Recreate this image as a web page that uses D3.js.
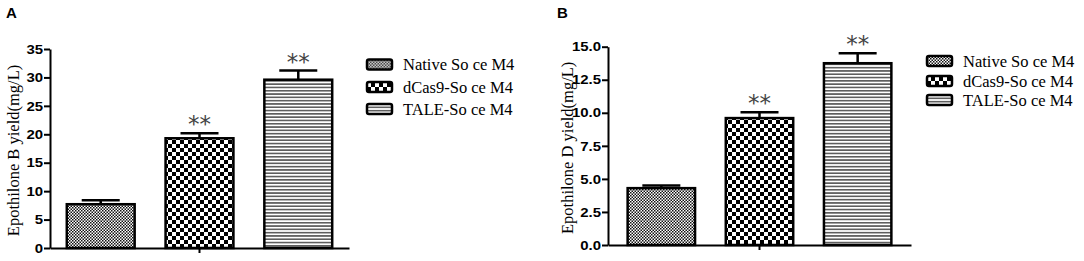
<!DOCTYPE html>
<html>
<head>
<meta charset="utf-8">
<script src="https://cdn.jsdelivr.net/npm/d3@7"></script>
<style>
  body { margin: 0; background: #fff; }
  svg { display: block; }
</style>
</head>
<body>
<script>
'use strict';

// data
var categories = ['Native So ce M4', 'dCas9-So ce M4', 'TALE-So ce M4'];
var yieldB = [7.7, 19.3, 29.6],
    errB = [0.7, 0.9, 1.6];
var yieldD = [4.3, 9.6, 13.75],
    errD = [0.2, 0.45, 0.75];
var ticksB = [0, 5, 10, 15, 20, 25, 30, 35],
    ticksD = [0, 2.5, 5, 7.5, 10, 12.5, 15];
var starLabels = ['', '**', '**'];

var svg = d3.select('body').append('svg').attr('width', 1084).attr('height', 261),
    defs = svg.append('defs');

// bar fills: fine checker, coarse checker, horizontal stripes
var fine = defs.append('pattern').attr('id', 'fill0').attr('patternUnits', 'userSpaceOnUse')
  .attr('width', 3).attr('height', 3);
fine.append('rect').attr('width', 3).attr('height', 3).attr('fill', '#fff');
fine.append('rect').attr('width', 1.5).attr('height', 1.5).attr('fill', '#111');
fine.append('rect').attr('x', 1.5).attr('y', 1.5).attr('width', 1.5).attr('height', 1.5).attr('fill', '#111');

var coarse = defs.append('pattern').attr('id', 'fill1').attr('patternUnits', 'userSpaceOnUse')
  .attr('width', 8).attr('height', 8);
coarse.append('rect').attr('width', 8).attr('height', 8).attr('fill', '#fff');
coarse.append('rect').attr('width', 4).attr('height', 4).attr('fill', '#000');
coarse.append('rect').attr('x', 4).attr('y', 4).attr('width', 4).attr('height', 4).attr('fill', '#000');

var stripes = defs.append('pattern').attr('id', 'fill2').attr('patternUnits', 'userSpaceOnUse')
  .attr('width', 6).attr('height', 3.3);
stripes.append('rect').attr('width', 6).attr('height', 3.3).attr('fill', '#fff');
stripes.append('rect').attr('y', 1).attr('width', 6).attr('height', 1.3).attr('fill', '#333');

function drawPanel(opt) {
  var g = svg.append('g'),
      x = d3.scaleBand().domain(categories).range([opt.left, opt.right])
        .paddingInner(0.313).paddingOuter(opt.outer),
      y = d3.scaleLinear().domain([0, opt.max]).range([opt.bottom, opt.top]),
      bw = x.bandwidth();

  // y axis
  var yAxis = g.append('g').attr('transform', 'translate(' + opt.left + ',0)')
    .call(d3.axisLeft(y).tickValues(opt.ticks).tickSize(6).tickSizeOuter(0).tickFormat(opt.fmt));
  yAxis.select('.domain').attr('stroke', '#000').attr('stroke-width', 2);
  yAxis.selectAll('.tick line').attr('stroke', '#000').attr('stroke-width', 2);
  yAxis.selectAll('.tick text')
    .attr('x', -7 / 1.15)
    .attr('transform', 'scale(1.15,1)')
    .attr('fill', '#000')
    .style('font', 'bold 13px "Liberation Sans", Arial, sans-serif');

  // x axis with one centre tick
  var xAxis = g.append('g').attr('transform', 'translate(0,' + opt.bottom + ')')
    .call(d3.axisBottom(x).tickValues([categories[1]]).tickSize(5).tickSizeOuter(0).tickFormat(''));
  xAxis.select('.domain').attr('stroke', '#000').attr('stroke-width', 2);
  xAxis.selectAll('.tick line').attr('stroke', '#000').attr('stroke-width', 2);

  // bars
  g.selectAll('rect.bar').data(opt.values).enter().append('rect')
    .attr('class', 'bar')
    .attr('x', function (d, i) { return x(categories[i]); })
    .attr('y', function (d) { return y(d); })
    .attr('width', bw)
    .attr('height', function (d) { return opt.bottom - y(d); })
    .attr('fill', function (d, i) { return 'url(#fill' + i + ')'; })
    .attr('stroke', '#000').attr('stroke-width', 2.5);

  // error bars
  opt.values.forEach(function (v, i) {
    var cx = x(categories[i]) + bw / 2,
        top = y(v + opt.errors[i]);
    g.append('line').attr('x1', cx).attr('x2', cx).attr('y1', y(v)).attr('y2', top)
      .attr('stroke', '#000').attr('stroke-width', 2.5);
    g.append('line').attr('x1', cx - 19).attr('x2', cx + 19).attr('y1', top).attr('y2', top)
      .attr('stroke', '#000').attr('stroke-width', 2.5);
    if (starLabels[i]) {
      g.append('text').attr('x', cx).attr('y', top - 1)
        .attr('text-anchor', 'middle')
        .attr('fill', '#444')
        .style('font', '23px "DejaVu Sans", sans-serif')
        .text(starLabels[i]);
    }
  });

  // y title
  g.append('text')
    .attr('transform', 'translate(' + opt.titleX + ',' + ((opt.top + opt.bottom) / 2 + 2) + ') rotate(-90)')
    .attr('text-anchor', 'middle')
    .attr('dominant-baseline', 'central')
    .style('font', '16.5px "Liberation Serif", "Times New Roman", serif')
    .text(opt.title);

  // panel letter
  g.append('text').attr('x', opt.letterX).attr('y', 18)
    .style('font', 'bold 15px "Liberation Sans", Arial, sans-serif')
    .text(opt.letter);

  // legend
  var legend = g.selectAll('g.key').data(categories).enter().append('g')
    .attr('class', 'key')
    .attr('transform', function (d, i) { return 'translate(' + opt.legendX + ',' + opt.legendY[i] + ')'; });
  legend.append('rect').attr('x', 0).attr('y', -5).attr('width', 25).attr('height', 10).attr('rx', 2)
    .attr('fill', function (d, i) { return 'url(#fill' + i + ')'; })
    .attr('stroke', '#000').attr('stroke-width', 2.5);
  legend.append('text').attr('x', 36).attr('y', 0)
    .attr('dominant-baseline', 'central')
    .style('font', '16.5px "Liberation Serif", "Times New Roman", serif')
    .text(function (d) { return d; });
}

drawPanel({
  values: yieldB, errors: errB, ticks: ticksB, max: 35, fmt: d3.format('d'),
  left: 50, right: 349, top: 49, bottom: 248, outer: 0.17,
  title: 'Epothilone B yield(mg/L)', titleX: 13, letter: 'A', letterX: 6,
  legendX: 367, legendY: [64.5, 87, 109]
});

drawPanel({
  values: yieldD, errors: errD, ticks: ticksD, max: 15, fmt: d3.format('.1f'),
  left: 608, right: 911, top: 46.7, bottom: 245, outer: 0.2,
  title: 'Epothilone D yield(mg/L)', titleX: 567, letter: 'B', letterX: 557,
  legendX: 927, legendY: [61, 81, 100]
});
</script>
</body>
</html>
